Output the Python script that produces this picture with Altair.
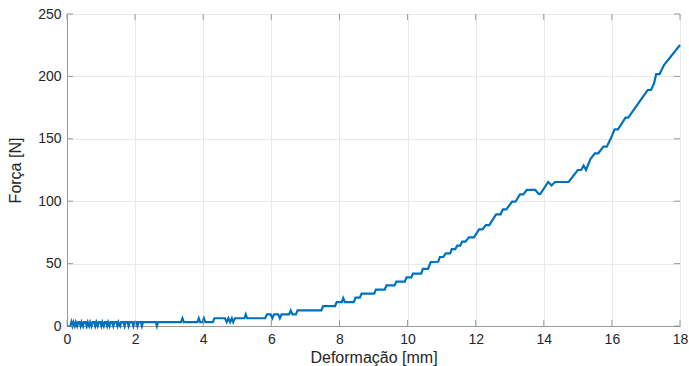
import altair as alt
import pandas as pd

# Force–deformation curve (step-like load cell readings)
deformacao_mm = [
    0.00, 0.10, 0.13, 0.16, 0.19, 0.23, 0.26, 0.30, 0.33, 0.37, 0.40, 0.43,
    0.47, 0.50, 0.55, 0.58, 0.61, 0.65, 0.68, 0.72, 0.75, 0.80, 0.83, 0.86,
    0.90, 0.93, 0.98, 1.01, 1.04, 1.08, 1.11, 1.15, 1.18, 1.21, 1.25, 1.28,
    1.33, 1.36, 1.39, 1.45, 1.48, 1.51, 1.56, 1.59, 1.66, 1.69, 1.72, 1.78,
    1.81, 1.84, 1.92, 1.95, 1.98, 2.04, 2.07, 2.10, 2.17, 2.20, 2.23, 2.61,
    2.64, 2.67, 3.35, 3.39, 3.43, 3.83, 3.87, 3.91, 3.98, 4.02, 4.06, 4.28,
    4.33, 4.64, 4.69, 4.74, 4.79, 4.84, 4.88, 4.93, 5.21, 5.25, 5.29, 5.82,
    5.87, 5.98, 6.03, 6.08, 6.20, 6.25, 6.30, 6.52, 6.57, 6.62, 6.72, 6.77,
    7.47, 7.52, 7.87, 7.92, 8.07, 8.11, 8.16, 8.42, 8.47, 8.60, 8.65, 9.02,
    9.07, 9.33, 9.38, 9.62, 9.67, 9.92, 9.97, 10.11, 10.16, 10.40, 10.45,
    10.60, 10.68, 10.90, 10.95, 11.05, 11.12, 11.25, 11.30, 11.40, 11.46,
    11.55, 11.60, 11.70, 11.80, 11.95, 12.10, 12.20, 12.30, 12.40, 12.60,
    12.73, 12.80, 12.90, 13.07, 13.17, 13.30, 13.40, 13.50, 13.75, 13.85,
    13.90, 14.13, 14.23, 14.33, 14.73, 15.00, 15.10, 15.17, 15.24, 15.37,
    15.50, 15.60, 15.75, 15.85, 15.97, 16.08, 16.18, 16.40, 16.48, 17.05,
    17.15, 17.24, 17.30, 17.40, 17.53, 18.00,
]
forca_n = [
    0, 0, 3.1, 0, 3.1, 0, 3.1, 0, 3.1, 3.1, 0, 3.1,
    0, 3.1, 3.1, 0, 3.1, 0, 3.1, 0, 3.1, 3.1, 0, 3.1,
    0, 3.1, 3.1, 0, 3.1, 0, 3.1, 3.1, 0, 3.1, 0, 3.1,
    3.1, 0, 3.1, 3.1, 0, 3.1, 0, 3.1, 3.1, 0, 3.1, 3.1,
    0, 3.1, 3.1, 0, 3.1, 3.1, 0, 3.1, 3.1, 0, 3.1, 3.1,
    0, 3.1, 3.1, 6.2, 3.1, 3.1, 6.2, 3.1, 3.1, 6.2, 3.1, 3.1,
    6.2, 6.2, 3.1, 6.2, 3.1, 6.2, 3.1, 6.2, 6.2, 9.3, 6.2, 6.2,
    9.3, 9.3, 6.2, 9.3, 9.3, 6.2, 9.3, 9.3, 12.4, 9.3, 9.3, 12.6,
    12.6, 16.0, 16.0, 19.2, 19.2, 22.4, 19.2, 19.2, 22.7, 22.7, 25.9, 25.9,
    29.2, 29.2, 32.5, 32.5, 35.6, 35.6, 38.9, 38.9, 42.0, 42.0, 45.8,
    45.8, 51.3, 51.5, 55.3, 55.3, 58.2, 58.2, 61.6, 61.6, 64.4,
    64.4, 67.6, 67.6, 71.0, 71.0, 77.4, 77.4, 80.9, 80.9, 89.5,
    89.5, 93.4, 93.4, 99.6, 99.6, 105.5, 105.5, 109.0, 109.0, 105.8,
    105.8, 115.4, 112.6, 115.4, 115.4, 125.0, 125.0, 128.6, 125.0, 133.8,
    138.4, 138.4, 143.7, 143.7, 150.4, 157.6, 157.6, 166.9, 166.9, 189.1,
    189.1, 194.5, 201.9, 201.9, 209.1, 225.2,
]

x_ticks = [0, 2, 4, 6, 8, 10, 12, 14, 16, 18]
y_ticks = [0, 50, 100, 150, 200, 250]

W, H = 613, 312
AXIS_GRAY = "#9a9a9a"
TEXT = "#262626"
FONT = "Liberation Sans"

curve = pd.DataFrame({"d": deformacao_mm, "f": forca_n})
xt = pd.DataFrame({"v": x_ticks})
yt = pd.DataFrame({"v": y_ticks})

x_scale = alt.Scale(domain=[0, 18], nice=False, zero=False)
y_scale = alt.Scale(domain=[0, 250], nice=False)

x_axis = alt.Axis(
    values=x_ticks, title="Deformação [mm]", tickSize=0, labelPadding=6,
    grid=True, gridColor="#e9e9e9", domainColor=AXIS_GRAY,
    labelFontSize=14, titleFontSize=16, labelColor=TEXT, titleColor=TEXT,
    labelFont=FONT, titleFont=FONT, titleFontWeight="normal",
    titleX=W / 2, titleY=31, titleBaseline="middle", labelFlush=False,
)
y_axis = alt.Axis(
    values=y_ticks, title="Força [N]", tickSize=0, labelPadding=6,
    grid=True, gridColor="#e9e9e9", domainColor=AXIS_GRAY,
    labelFontSize=14, titleFontSize=16, labelColor=TEXT, titleColor=TEXT,
    labelFont=FONT, titleFont=FONT, titleFontWeight="normal",
    titleX=-52, titleY=H / 2, titleBaseline="middle", titleAngle=270,
    labelFlush=False,
)

line = alt.Chart(curve).mark_line(color="#0072BD", strokeWidth=2.2).encode(
    x=alt.X("d:Q", scale=x_scale, axis=x_axis),
    y=alt.Y("f:Q", scale=y_scale, axis=y_axis),
    order="d:Q",
)

# inward tick marks on all four sides of the box
tick_len = 6
bottom_ticks = alt.Chart(xt).mark_rule(color=AXIS_GRAY, strokeWidth=1).encode(
    x=alt.X("v:Q", scale=x_scale), y=alt.value(H), y2=alt.value(H - tick_len)
)
top_ticks = alt.Chart(xt).mark_rule(color=AXIS_GRAY, strokeWidth=1).encode(
    x=alt.X("v:Q", scale=x_scale), y=alt.value(0), y2=alt.value(tick_len)
)
left_ticks = alt.Chart(yt).mark_rule(color=AXIS_GRAY, strokeWidth=1).encode(
    y=alt.Y("v:Q", scale=y_scale), x=alt.value(0), x2=alt.value(tick_len)
)
right_ticks = alt.Chart(yt).mark_rule(color=AXIS_GRAY, strokeWidth=1).encode(
    y=alt.Y("v:Q", scale=y_scale), x=alt.value(W), x2=alt.value(W - tick_len)
)

chart = (
    alt.layer(line, bottom_ticks, top_ticks, left_ticks, right_ticks)
    .properties(
        width=W, height=H,
        autosize=alt.AutoSizeParams(type="none"),
        padding={"left": 67, "top": 14, "right": 9, "bottom": 40},
        background="white",
    )
    .configure_view(stroke=AXIS_GRAY, strokeWidth=1)
)

chart.save("out.html", embed_options={"renderer": "svg", "actions": False})
